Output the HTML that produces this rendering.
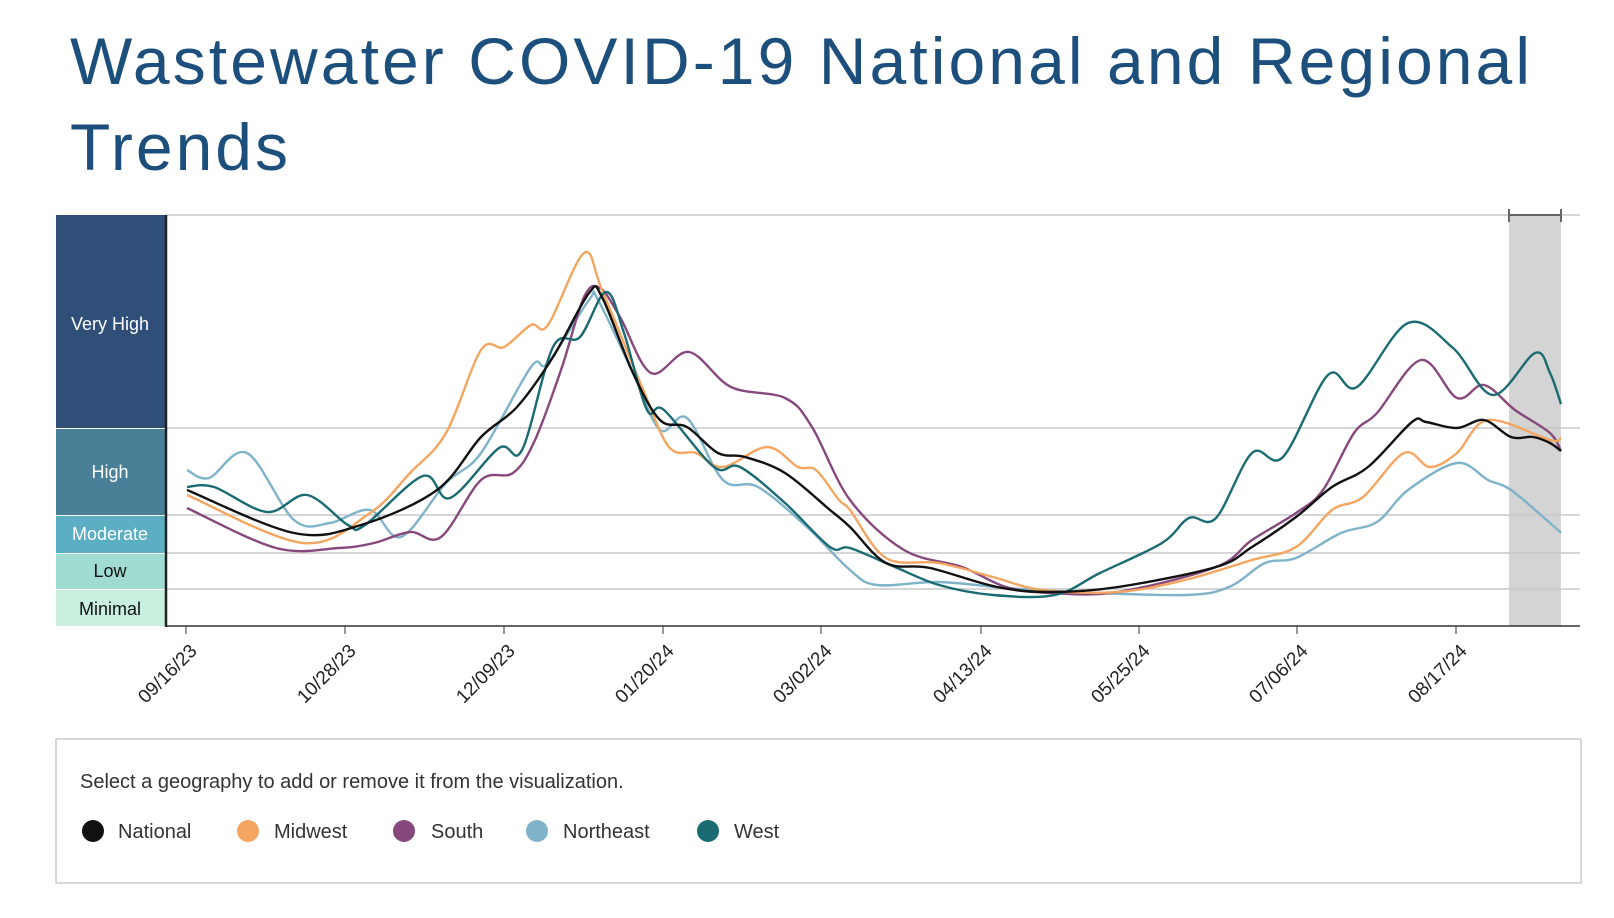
<!DOCTYPE html>
<html><head><meta charset="utf-8"><style>
body{margin:0;background:#fff;}
svg{display:block;font-family:"Liberation Sans",sans-serif;}
</style></head><body>
<svg id="s" width="1614" height="918" viewBox="0 0 1614 918">
<text x="70" y="84" font-size="66" fill="#1d4f7d" textLength="1460" lengthAdjust="spacing">Wastewater COVID-19 National and Regional</text>
<text x="70" y="170" font-size="66" fill="#1d4f7d" textLength="218" lengthAdjust="spacing">Trends</text>
<rect x="1509" y="215" width="52" height="411" fill="#d4d4d4"/>
<g stroke="#c8c8c8" stroke-width="1.5">
<line x1="166" y1="215" x2="1580" y2="215"/>
<line x1="166" y1="428" x2="1580" y2="428"/>
<line x1="166" y1="515" x2="1580" y2="515"/>
<line x1="166" y1="553" x2="1580" y2="553"/>
<line x1="166" y1="589" x2="1580" y2="589"/>
</g>
<g stroke="#666" stroke-width="2"><line x1="1509" y1="215" x2="1561" y2="215"/><line x1="1509" y1="209" x2="1509" y2="222"/><line x1="1561" y1="209" x2="1561" y2="222"/></g>
<rect x="56" y="215" width="109" height="213" fill="#2f4f78"/>
<rect x="56" y="429" width="109" height="86" fill="#4a7f98"/>
<rect x="56" y="516" width="109" height="37" fill="#5cafc3"/>
<rect x="56" y="554" width="109" height="35" fill="#a0dcd2"/>
<rect x="56" y="590" width="109" height="36" fill="#c9efdf"/>
<g font-size="18" text-anchor="middle">
<text x="110" y="330" fill="#fff">Very High</text>
<text x="110" y="478" fill="#fff">High</text>
<text x="110" y="540" fill="#fff">Moderate</text>
<text x="110" y="577" fill="#111">Low</text>
<text x="110" y="615" fill="#111">Minimal</text>
</g>
<line x1="166" y1="215" x2="166" y2="627" stroke="#222" stroke-width="2.5"/>
<line x1="165" y1="626" x2="1580" y2="626" stroke="#333" stroke-width="1.5"/>
<g id="ticks" font-size="19" fill="#222"></g>
<g id="lines" fill="none" stroke-width="2.4" stroke-linejoin="round"></g>
<rect x="56" y="739" width="1525" height="144" fill="none" stroke="#ccc" stroke-width="1.5"/>
<text x="80" y="788" font-size="20" fill="#333">Select a geography to add or remove it from the visualization.</text>
<g font-size="20" fill="#333">
<circle cx="93" cy="831" r="11" fill="#111"/><text x="118" y="838">National</text>
<circle cx="248" cy="831" r="11" fill="#f4a661"/><text x="274" y="838">Midwest</text>
<circle cx="404" cy="831" r="11" fill="#87497d"/><text x="431" y="838">South</text>
<circle cx="537" cy="831" r="11" fill="#7fb3c9"/><text x="563" y="838">Northeast</text>
<circle cx="708" cy="831" r="11" fill="#1b6b73"/><text x="734" y="838">West</text>
</g>
</svg>
<script>
var NS="http://www.w3.org/2000/svg";
var tk=[[186,"09/16/23"],[345,"10/28/23"],[504,"12/09/23"],[663,"01/20/24"],[821,"03/02/24"],[981,"04/13/24"],[1139,"05/25/24"],[1297,"07/06/24"],[1456,"08/17/24"]];
var g=document.getElementById("ticks");
tk.forEach(function(t){var l=document.createElementNS(NS,"line");l.setAttribute("x1",t[0]);l.setAttribute("x2",t[0]);l.setAttribute("y1",626);l.setAttribute("y2",634);l.setAttribute("stroke","#333");g.appendChild(l);
var tx=document.createElementNS(NS,"text");tx.setAttribute("text-anchor","end");tx.setAttribute("transform","translate("+(t[0]+12)+",652) rotate(-45)");tx.textContent=t[1];g.appendChild(tx);});
function path(p){var d="M"+p[0][0]+","+p[0][1];for(var i=0;i<p.length-1;i++){var p0=p[i-1]||p[i],p1=p[i],p2=p[i+1],p3=p[i+2]||p2;
var c1=[p1[0]+(p2[0]-p0[0])/6,p1[1]+(p2[1]-p0[1])/6],c2=[p2[0]-(p3[0]-p1[0])/6,p2[1]-(p3[1]-p1[1])/6];d+="C"+c1+" "+c2+" "+p2;}return d;}
var S={
"#7fb3c9":[[187,470],[209,478],[247,453],[294,520],[330,523],[370,510],[401,537],[446,483],[481,453],[531,367],[548,363],[589,300],[598,300],[633,373],[660,430],[687,418],[723,480],[758,487],[807,527],[850,570],[877,585],[939,582],[1006,588],[1073,592],[1185,595],[1229,587],[1265,563],[1296,558],[1341,533],[1377,522],[1408,490],[1457,463],[1488,480],[1511,490],[1550,523],[1561,533]],
"#87497d":[[187,508],[276,548],[339,548],[374,543],[410,532],[441,537],[481,480],[513,473],[535,440],[562,367],[584,297],[600,288],[620,317],[651,373],[689,352],[731,387],[785,398],[812,427],[850,500],[904,550],[962,567],[1006,587],[1051,593],[1118,592],[1216,567],[1252,540],[1296,513],[1323,490],[1354,433],[1377,413],[1421,360],[1457,398],[1484,385],[1515,410],[1550,433],[1561,451]],
"#f4a661":[[187,495],[303,543],[370,513],[410,473],[446,433],[481,350],[504,347],[531,325],[548,325],[584,253],[602,290],[642,387],[669,447],[696,453],[723,467],[767,447],[798,467],[816,470],[839,500],[850,510],[886,558],[939,563],[993,577],[1042,590],[1118,592],[1185,580],[1252,560],[1296,547],[1332,510],[1363,497],[1404,453],[1430,467],[1457,453],[1488,420],[1550,440],[1561,438]],
"#1b6b73":[[187,487],[214,487],[267,512],[307,495],[348,525],[365,525],[423,476],[450,498],[499,448],[522,450],[553,347],[580,337],[606,292],[624,333],[647,410],[664,410],[714,467],[740,467],[785,503],[830,547],[850,548],[895,567],[939,585],[993,595],[1055,595],[1100,573],[1162,543],[1189,518],[1216,518],[1252,453],[1283,457],[1328,375],[1357,387],[1408,323],[1453,348],[1493,395],[1535,353],[1550,373],[1561,404]],
"#111":[[187,490],[294,533],[361,525],[437,490],[481,437],[517,407],[553,357],[589,293],[602,297],[633,373],[660,420],[687,427],[718,453],[745,457],[785,473],[830,510],[850,527],[886,563],[930,568],[997,587],[1051,592],[1118,587],[1216,567],[1252,547],[1296,517],[1332,487],[1368,467],[1412,422],[1426,422],[1457,428],[1484,420],[1511,437],[1533,437],[1550,443],[1561,451]]};
var L=document.getElementById("lines");
for(var c in S){var pe=document.createElementNS(NS,"path");pe.setAttribute("d",path(S[c]));pe.setAttribute("stroke",c);L.appendChild(pe);}
</script>
</body></html>
